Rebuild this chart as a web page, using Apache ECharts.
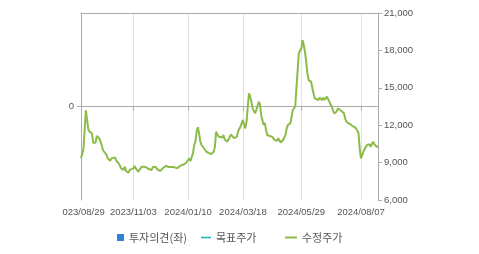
<!DOCTYPE html>
<html><head><meta charset="utf-8">
<script src="https://cdn.jsdelivr.net/npm/echarts@6/dist/echarts.min.js"></script>
<style>html,body{margin:0;padding:0;background:#fff}#c{width:479px;height:254px}</style>
</head><body><div id="c"></div>
<script>
// KRX closing days in the period (weekdays without trading)
const holidays = ['2023/09/28','2023/09/29','2023/10/02','2023/10/03','2023/10/09','2023/12/25','2023/12/29',
  '2024/01/01','2024/02/09','2024/02/12','2024/03/01','2024/04/10','2024/05/01','2024/05/06','2024/05/15',
  '2024/06/06','2024/08/15'];
const tickLabels = ['2023/08/29','2023/11/03','2024/01/10','2024/03/18','2024/05/29','2024/08/07'];
const seriesNames = ['투자의견(좌)','목표주가','수정주가'];
const opinion = [];
const targetPrice = [];
// adjusted close, one slot per trading day (null = not read)
const prices = [
  9350,null,10070,10150,13200,12420,11670,11480,null,11350,
  10600,null,10600,11130,null,10950,10680,10410,10010,10150,
  null,9610,9340,null,9150,9340,9210,null,9420,9150,
  null,8940,null,8540,null,8410,8670,8330,null,8190,
  8410,8410,null,8540,8730,8540,null,8270,8410,null,
  8670,8620,8670,null,8600,8670,8460,null,8410,8640,
  null,8670,8540,8430,null,8330,8410,null,8620,8540,
  8730,null,8650,8810,null,8650,8700,8620,null,8540,
  8650,8700,null,8810,8940,8880,null,9070,9210,9340,
  9130,9470,9740,10410,10700,11500,11830,11350,10680,10410,
  null,10150,null,9870,null,9780,9740,9680,null,9870,
  10270,11480,11400,11080,10950,null,11020,11210,10870,null,
  10680,10810,11000,11250,11150,null,10950,null,11080,11480,
  null,11880,12150,12420,12020,11750,12280,13480,14560,14290,
  13880,13350,13220,12950,13220,null,13880,13700,12820,12420,
  12020,12200,11610,11210,11080,11130,null,11080,10950,10810,
  null,10750,10950,null,10610,10680,10810,null,11210,11750,
  12020,null,12150,12680,13220,null,13500,15000,16430,17770,
  17890,18170,18830,18430,17900,17090,16160,15620,null,15490,
  15400,14560,14160,14290,null,14020,14200,null,14020,14200,
  14020,null,14290,14100,13880,null,13480,13220,12950,null,
  13080,13350,13480,13220,13080,null,12950,12550,12280,null,
  12150,12230,12020,null,11880,11880,11750,11800,11350,10100,
  9340,9610,9870,10070,10150,10410,10270,10470,10270,null,
  10680,10470,10410,10270,10270
];

const days = [];
for (let t = Date.UTC(2023,7,29); t <= Date.UTC(2024,7,28); t += 86400000) {
  const d = new Date(t); const w = d.getUTCDay();
  if (w === 0 || w === 6) continue;
  const s = d.getUTCFullYear() + '/' + String(d.getUTCMonth()+1).padStart(2,'0') + '/' + String(d.getUTCDate()).padStart(2,'0');
  if (holidays.includes(s)) continue;
  days.push(s);
}
const showTick = (i, v) => tickLabels.includes(v);
const axisGray = '#ababab', gridGray = '#e2e2e2', labelColor = '#555';
const numFont = 'Arial, "Liberation Sans", sans-serif';
const krFont = '"Noto Sans CJK KR", sans-serif';
const lineIcon = 'path://M0,0H12V2H0Z';

const chart = echarts.init(document.getElementById('c'));
const legendBase = (name, left, w, h, icon) => ({
  data: [{name, icon}], left, top: 232, padding: 0, itemWidth: w, itemHeight: h,
  selectedMode: false,
  textStyle: {fontSize: 11, color: labelColor, fontFamily: krFont}
});
chart.setOption({
  animation: false,
  backgroundColor: '#fff',
  grid: {left: 81, right: 101, top: 13, bottom: 54},
  legend: [
    legendBase(seriesNames[0], 117, 7, 7, 'rect'),
    legendBase(seriesNames[1], 201, 10, 8, lineIcon),
    legendBase(seriesNames[2], 285, 12, 8, lineIcon)
  ],
  xAxis: [{
    type: 'category', data: days, boundaryGap: false,
    axisLine: {lineStyle: {color: axisGray}},
    axisTick: {interval: showTick, length: 4, lineStyle: {color: axisGray}},
    axisLabel: {interval: showTick, color: labelColor, fontSize: 9.5, margin: 7, fontFamily: numFont},
    splitLine: {show: true, interval: showTick, lineStyle: {color: gridGray}}
  }, {
    type: 'category', data: days, boundaryGap: false, position: 'top',
    axisLine: {show: true, lineStyle: {color: axisGray}},
    axisTick: {show: false}, axisLabel: {show: false}, splitLine: {show: false}
  }],
  yAxis: [{
    type: 'value', position: 'left', min: -1, max: 1, interval: 1,
    axisLine: {show: true, lineStyle: {color: axisGray}},
    axisTick: {show: true, length: 4, customValues: [0], lineStyle: {color: axisGray}},
    axisLabel: {customValues: [0], formatter: v => v === 0 ? '0' : '', color: labelColor, fontSize: 9.5, margin: 7, fontFamily: numFont},
    splitLine: {show: true, lineStyle: {color: gridGray}}
  }, {
    type: 'value', position: 'right', min: 6000, max: 21000, interval: 3000,
    axisLine: {show: true, lineStyle: {color: axisGray}},
    axisTick: {show: true, length: 4, lineStyle: {color: axisGray}},
    axisLabel: {formatter: v => v.toLocaleString('en-US'), color: labelColor, fontSize: 9.5, margin: 6, fontFamily: numFont},
    splitLine: {show: false}
  }],
  series: [
    {name: seriesNames[0], type: 'bar', yAxisIndex: 0, data: opinion, itemStyle: {color: '#2f7fdc'}},
    {name: seriesNames[1], type: 'line', yAxisIndex: 1, data: targetPrice, symbol: 'none', itemStyle: {color: '#2ab4c4'}, lineStyle: {width: 2, color: '#2ab4c4'}},
    {name: seriesNames[2], type: 'line', yAxisIndex: 1, data: prices, connectNulls: true, symbol: 'none', itemStyle: {color: '#8cbb48'}, lineStyle: {width: 2, color: '#8cbb48'}}
  ],
  graphic: [{type: 'rect', shape: {x: 0, y: 203, width: 62, height: 16}, style: {fill: '#fff'}, z: 100}]
});
</script></body></html>
